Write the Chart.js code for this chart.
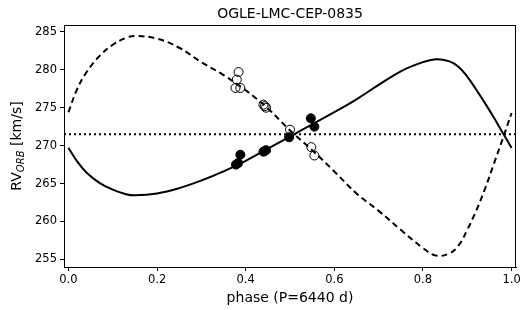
<!DOCTYPE html>
<html>
<head>
<meta charset="utf-8">
<script src="https://cdn.jsdelivr.net/npm/chart.js@4.4.0/dist/chart.umd.min.js"></script>
<style>
  html, body { margin: 0; padding: 0; background: #fff; }
  #wrap { width: 532px; height: 310px; }
</style>
</head>
<body>
<div id="wrap"><canvas id="rvChart" width="532" height="310"></canvas></div>
<script>
// orbit model curves
var solidPhase = [0, 0.02, 0.04, 0.07, 0.1, 0.13, 0.15, 0.2, 0.25, 0.3, 0.35, 0.4, 0.45, 0.5, 0.55, 0.6, 0.65, 0.7, 0.75, 0.8, 0.83, 0.86, 0.88, 0.9, 0.92, 0.94, 0.96, 0.98, 1.0];
var solidRV    = [269.7, 267.9, 266.5, 265.1, 264.2, 263.6, 263.45, 263.7, 264.4, 265.4, 266.6, 268.0, 269.6, 271.2, 272.8, 274.4, 276.1, 278.0, 279.8, 281.0, 281.4, 281.1, 280.4, 279.1, 277.4, 275.6, 273.7, 271.7, 269.7];

var dashPhase = [0, 0.02, 0.04, 0.07, 0.1, 0.13, 0.15, 0.2, 0.25, 0.3, 0.35, 0.4, 0.45, 0.5, 0.55, 0.6, 0.65, 0.7, 0.75, 0.8, 0.83, 0.86, 0.88, 0.9, 0.92, 0.94, 0.96, 0.98, 1.0];
var dashRV    = [274.4, 277.5, 279.6, 281.8, 283.3, 284.2, 284.45, 284.1, 282.9, 281.0, 279.3, 277.3, 274.9, 272.0, 269.4, 266.6, 263.7, 261.4, 258.9, 256.5, 255.5, 255.8, 256.8, 258.9, 261.4, 264.3, 267.6, 270.9, 274.3];

// measured velocities
var filledPhase = [0.378, 0.383, 0.388, 0.440, 0.443, 0.446, 0.498, 0.547, 0.555];
var filledRV    = [267.5, 267.7, 268.8, 269.2, 269.3, 269.4, 271.1, 273.6, 272.5];
var openPhase = [0.377, 0.380, 0.384, 0.388, 0.440, 0.443, 0.446, 0.500, 0.548, 0.555];
var openRV    = [277.6, 278.7, 279.7, 277.6, 275.4, 275.2, 275.0, 272.1, 269.8, 268.7];

var gammaRV = 271.5;
var xTicks = [0, 0.2, 0.4, 0.6, 0.8, 1.0];
var yTicks = [255, 260, 265, 270, 275, 280, 285];

function pts(xs, ys) {
  return xs.map(function (x, i) { return { x: x, y: ys[i] }; });
}

var frame = {
  id: 'frame',
  afterDraw: function (chart) {
    var c = chart.ctx, a = chart.chartArea;
    c.save();
    c.strokeStyle = '#000';
    c.lineWidth = 1;
    c.strokeRect(a.left + 0.5, a.top + 0.5, a.right - a.left - 1, a.bottom - a.top);
    // title
    c.fillStyle = '#000';
    c.textAlign = 'center';
    c.textBaseline = 'alphabetic';
    c.font = '14px "DejaVu Sans"';
    c.fillText('OGLE-LMC-CEP-0835', (a.left + a.right) / 2, 18);
    // x label
    c.fillText('phase (P=6440 d)', (a.left + a.right) / 2, 302);
    // y label with subscript
    var big = '14px "DejaVu Sans"', small = 'italic 10px "DejaVu Sans"';
    c.font = big; var w1 = c.measureText('RV').width, w3 = c.measureText(' [km/s]').width;
    c.font = small; var w2 = c.measureText('ORB').width;
    var total = w1 + w2 + w3;
    c.translate(21, (a.top + a.bottom) / 2);
    c.rotate(-Math.PI / 2);
    c.textAlign = 'left';
    var x0 = -total / 2;
    c.font = big; c.fillText('RV', x0, 0);
    c.font = small; c.fillText('ORB', x0 + w1, 3);
    c.font = big; c.fillText(' [km/s]', x0 + w1 + w2, 0);
    c.restore();
  }
};

var ctx = document.getElementById('rvChart').getContext('2d');
var myChart = new Chart(ctx, {
  type: 'scatter',
  data: {
    datasets: [
      {
        label: 'open',
        data: pts(openPhase, openRV),
        backgroundColor: 'rgba(255,255,255,0)',
        borderColor: '#000',
        borderWidth: 1,
        pointRadius: 4.5,
        order: 1
      },
      {
        label: 'filled',
        data: pts(filledPhase, filledRV),
        backgroundColor: '#000',
        borderColor: '#000',
        borderWidth: 1,
        pointRadius: 4.5,
        order: 0
      },
      {
        label: 'gamma',
        type: 'line',
        data: [{ x: -0.01, y: gammaRV }, { x: 1.01, y: gammaRV }],
        borderColor: '#000',
        borderWidth: 2,
        borderDash: [2, 3],
        pointRadius: 0,
        fill: false,
        order: 4
      },
      {
        label: 'secondary',
        type: 'line',
        data: pts(dashPhase, dashRV),
        borderColor: '#000',
        borderWidth: 2,
        borderDash: [6, 4],
        pointRadius: 0,
        tension: 0.4,
        fill: false,
        order: 3
      },
      {
        label: 'primary',
        type: 'line',
        data: pts(solidPhase, solidRV),
        borderColor: '#000',
        borderWidth: 2,
        pointRadius: 0,
        tension: 0.4,
        fill: false,
        order: 2
      }
    ]
  },
  options: {
    responsive: false,
    animation: false,
    layout: { padding: { left: 0, right: 16, top: 25, bottom: 0 } },
    plugins: { legend: { display: false }, tooltip: { enabled: false } },
    scales: {
      x: {
        type: 'linear',
        min: -0.01,
        max: 1.01,
        afterBuildTicks: function (s) { s.ticks = xTicks.map(function (v) { return { value: v }; }); },
        afterFit: function (s) { s.height = 43; },
        ticks: {
          color: '#000',
          font: { family: 'DejaVu Sans', size: 11.5 },
          padding: 2,
          maxRotation: 0,
          callback: function (v) { return v.toFixed(1); }
        },
        grid: { drawOnChartArea: false, color: '#000', tickLength: 4, tickWidth: 1 },
        border: { color: '#000' }
      },
      y: {
        min: 254.0,
        max: 285.9,
        afterBuildTicks: function (s) { s.ticks = yTicks.map(function (v) { return { value: v }; }); },
        afterFit: function (s) { s.width = 64; },
        ticks: {
          color: '#000',
          font: { family: 'DejaVu Sans', size: 11.5 },
          padding: 3
        },
        grid: { drawOnChartArea: false, color: '#000', tickLength: 4, tickWidth: 1 },
        border: { color: '#000' }
      }
    }
  },
  plugins: [frame]
});
</script>
</body>
</html>
